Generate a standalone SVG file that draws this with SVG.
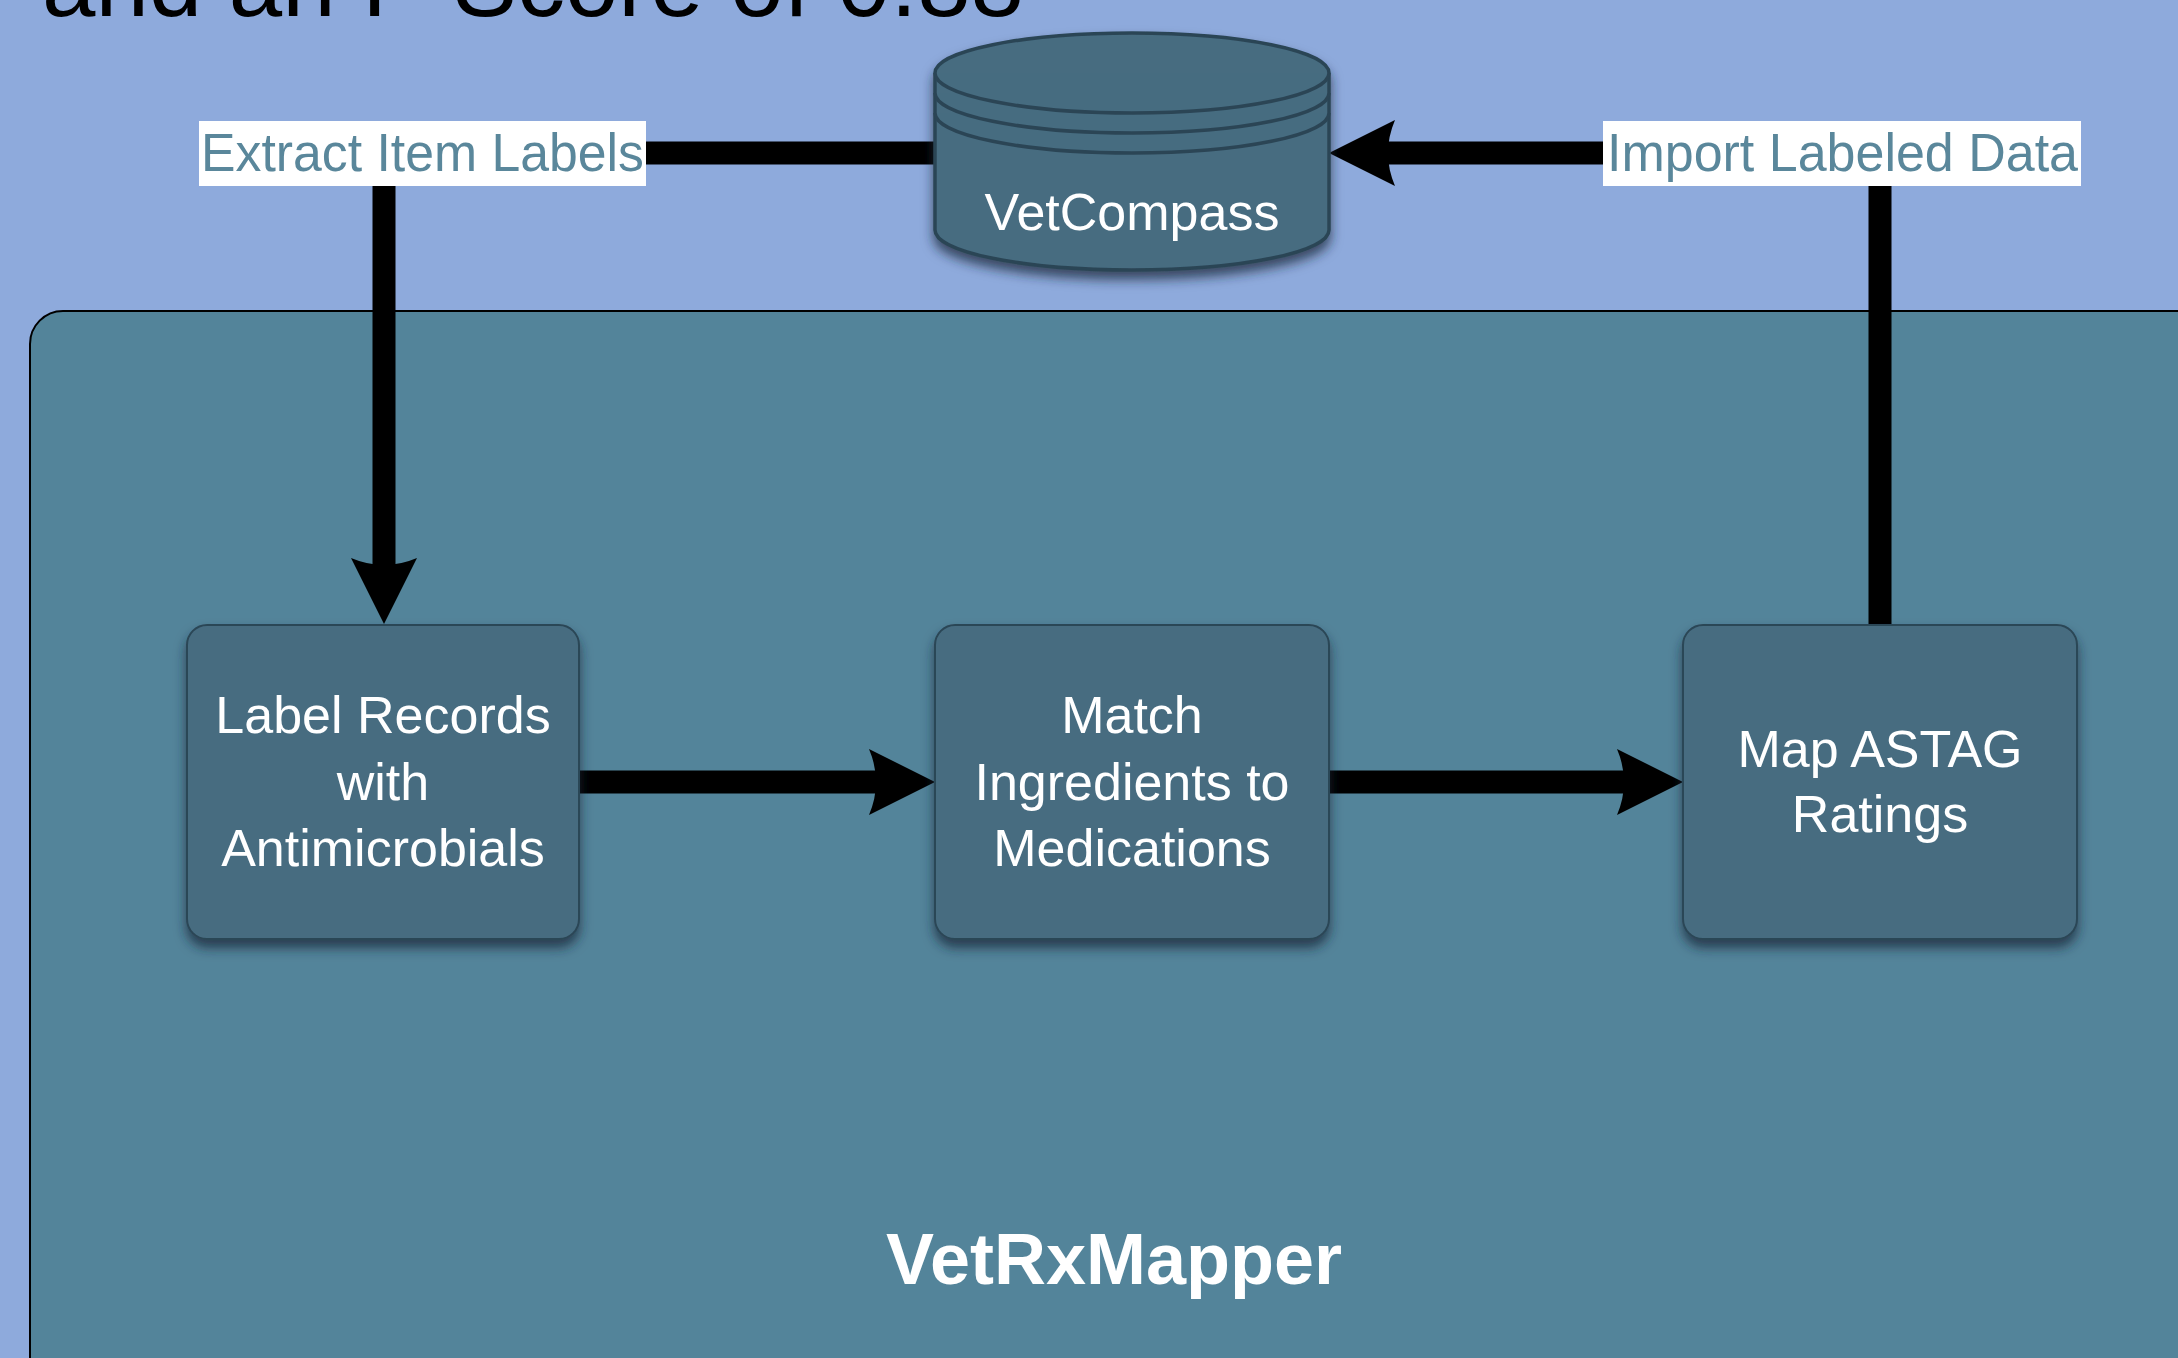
<svg xmlns="http://www.w3.org/2000/svg" width="2178" height="1358" viewBox="0 0 2178 1358">
<style>
.node{fill:#466c80;stroke:#2c4656;stroke-width:2}
.cyl{fill:#466c80;stroke:#2b4555;stroke-width:3.5}
.nt{font-family:"Liberation Sans",Arial,sans-serif;font-size:52px;fill:#ffffff;text-anchor:middle}
.lbl{font-family:"Liberation Sans",Arial,sans-serif;font-size:54px;fill:#5a879b}
.conn{stroke:#000;stroke-width:23;fill:none}
</style>
<defs>
<filter id="sh" x="-20%" y="-20%" width="140%" height="150%">
<feDropShadow dx="0" dy="8" stdDeviation="6" flood-color="#1b2c3a" flood-opacity="0.75"/>
</filter>
<marker id="ah" markerUnits="userSpaceOnUse" viewBox="0 0 66 66" refX="8" refY="33" markerWidth="66" markerHeight="66" orient="auto">
<path d="M0,0 L66,33 L0,66 Q14,33 0,0 Z" fill="#000"/>
</marker>
</defs>
<rect width="2178" height="1358" fill="#8eaadc"/>
<text x="42" y="16" font-family="'Liberation Sans',Arial,sans-serif" font-size="96" fill="#000">and an F-Score of 0.88</text>
<rect x="30" y="311" width="2220" height="1120" rx="33" fill="#53849a" stroke="#000" stroke-width="2"/>
<text x="1114" y="1284" font-family="'Liberation Sans',Arial,sans-serif" font-size="72" font-weight="bold" fill="#fff" text-anchor="middle">VetRxMapper</text>
<g id="connectors">
<path class="conn" d="M646,153 H935"/>
<path class="conn" d="M384,186 V566" marker-end="url(#ah)"/>
<path class="conn" d="M1603,153 H1387" marker-end="url(#ah)"/>
<path class="conn" d="M1880,625 V186"/>
<path class="conn" d="M579,782 H877" marker-end="url(#ah)"/>
<path class="conn" d="M1329,782 H1625" marker-end="url(#ah)"/>
</g>
<g id="vetcompass">
<path class="cyl" filter="url(#sh)" d="M935,73 A197,40 0 0 1 1329,73 V230 A197,40 0 0 1 935,230 Z"/>
<path class="cyl" fill="none" d="M935,73 A197,40 0 0 0 1329,73 M935,93 A197,40 0 0 0 1329,93 M935,113 A197,40 0 0 0 1329,113"/>
<text class="nt" x="1132" y="230">VetCompass</text>
</g>
<g id="label-extract">
<rect x="199" y="121" width="447" height="65" fill="#fff"/>
<text class="lbl" x="201" y="171" textLength="443" lengthAdjust="spacingAndGlyphs">Extract Item Labels</text>
</g>
<g id="label-import">
<rect x="1603" y="121" width="478" height="65" fill="#fff"/>
<text class="lbl" x="1607" y="171" textLength="471" lengthAdjust="spacingAndGlyphs">Import Labeled Data</text>
</g>
<g id="node-label-records">
<rect class="node" filter="url(#sh)" x="187" y="625" width="392" height="314" rx="20"/>
<text class="nt" x="383" y="733">Label Records</text>
<text class="nt" x="383" y="800">with</text>
<text class="nt" x="383" y="866">Antimicrobials</text>
</g>
<g id="node-match">
<rect class="node" filter="url(#sh)" x="935" y="625" width="394" height="314" rx="20"/>
<text class="nt" x="1132" y="733">Match</text>
<text class="nt" x="1132" y="800">Ingredients to</text>
<text class="nt" x="1132" y="866">Medications</text>
</g>
<g id="node-map">
<rect class="node" filter="url(#sh)" x="1683" y="625" width="394" height="314" rx="20"/>
<text class="nt" x="1880" y="767">Map ASTAG</text>
<text class="nt" x="1880" y="832">Ratings</text>
</g>
</svg>
